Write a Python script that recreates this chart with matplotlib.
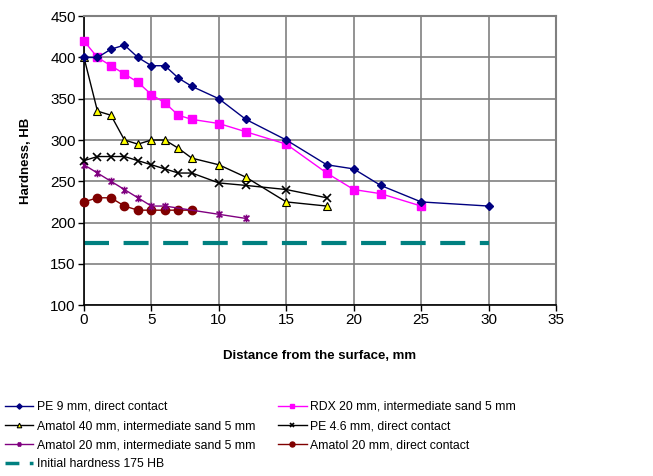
import matplotlib
matplotlib.use("Agg")
import matplotlib.pyplot as plt
from matplotlib.path import Path
from matplotlib.lines import Line2D

plt.rcParams['font.family'] = ['Liberation Sans', 'DejaVu Sans']

# hardness profiles, HB, against distance from the surface, mm
x_pe9 = [0, 1, 2, 3, 4, 5, 6, 7, 8, 10, 12, 15, 18, 20, 22, 25, 30]
hb_pe9 = [400, 400, 410, 415, 400, 390, 390, 375, 365, 350, 325, 300, 270, 265, 245, 225, 220]

x_rdx = [0, 1, 2, 3, 4, 5, 6, 7, 8, 10, 12, 15, 18, 20, 22, 25]
hb_rdx = [420, 400, 390, 380, 370, 355, 345, 330, 325, 320, 310, 295, 260, 240, 235, 220]

x_am40 = [0, 1, 2, 3, 4, 5, 6, 7, 8, 10, 12, 15, 18]
hb_am40 = [400, 335, 330, 300, 295, 300, 300, 290, 278, 270, 255, 225, 220]

x_pe46 = [0, 1, 2, 3, 4, 5, 6, 7, 8, 10, 12, 15, 18]
hb_pe46 = [275, 280, 280, 280, 275, 270, 265, 260, 260, 248, 245, 240, 230]

x_am20s = [0, 1, 2, 3, 4, 5, 6, 10, 12]
hb_am20s = [270, 260, 250, 240, 230, 220, 220, 210, 205]

x_am20d = [0, 1, 2, 3, 4, 5, 6, 7, 8]
hb_am20d = [225, 230, 230, 220, 215, 215, 215, 215, 215]

x_init = [0, 30]
hb_init = [175, 175]

xticks = [0, 5, 10, 15, 20, 25, 30, 35]
yticks = [100, 150, 200, 250, 300, 350, 400, 450]

# Excel-like star marker: an x with a vertical bar
star = Path([(-1, -1), (1, 1), (-1, 1), (1, -1), (0, -1.3), (0, 1.3)],
            [Path.MOVETO, Path.LINETO, Path.MOVETO, Path.LINETO, Path.MOVETO, Path.LINETO])

fig = plt.figure(figsize=(6.53, 4.76), dpi=100)
ax = fig.add_axes([0.1286, 0.359, 0.7229, 0.607])

ax.plot(x_init, hb_init, color='#008080', lw=3, dashes=(6, 3.5),
        label='Initial hardness 175 HB', zorder=2)
ax.plot(x_am20d, hb_am20d, color='#800000', lw=1, marker='o', ms=6,
        label='Amatol 20 mm, direct contact', zorder=3, clip_on=False)
ax.plot(x_am20s, hb_am20s, color='#800080', lw=1, marker=star, ms=5.5,
        mew=1.2, label='Amatol 20 mm, intermediate sand 5 mm', zorder=3, clip_on=False)
ax.plot(x_pe46, hb_pe46, color='black', lw=1, marker='x', ms=5.5, mew=1.2,
        label='PE 4.6 mm, direct contact', zorder=3, clip_on=False)
ax.plot(x_am40, hb_am40, color='black', lw=1, marker='^', ms=5.5,
        mfc='#FFFF00', mec='black', mew=0.8,
        label='Amatol 40 mm, intermediate sand 5 mm', zorder=3, clip_on=False)
ax.plot(x_rdx, hb_rdx, color='#FF00FF', lw=1, marker='s', ms=6,
        label='RDX 20 mm, intermediate sand 5 mm', zorder=3, clip_on=False)
ax.plot(x_pe9, hb_pe9, color='#000080', lw=1, marker='D', ms=4.5,
        label='PE 9 mm, direct contact', zorder=4, clip_on=False)

ax.set_xlim(0, 35)
ax.set_ylim(100, 450)
ax.set_xticks(xticks)
ax.set_yticks(yticks)
ax.tick_params(labelsize=11, direction='out', length=4, width=1, pad=2)
ax.grid(True, color='#808080', lw=1.2)
ax.set_axisbelow(True)
for s in ['top', 'right']:
    ax.spines[s].set_color('#808080')
    ax.spines[s].set_linewidth(1.5)
for s in ['left', 'bottom']:
    ax.spines[s].set_color('black')
    ax.spines[s].set_linewidth(1.2)

ax.set_xlabel('Distance from the surface, mm', fontsize=9.5, fontweight='bold', labelpad=16)
ax.set_ylabel('Hardness, HB', fontsize=9.5, fontweight='bold', labelpad=13)

# legend in two columns under the plot, filled column by column
h = {l.get_label(): l for l in ax.get_lines()}
order = ['PE 9 mm, direct contact',
         'Amatol 40 mm, intermediate sand 5 mm',
         'Amatol 20 mm, intermediate sand 5 mm',
         'Initial hardness 175 HB',
         'RDX 20 mm, intermediate sand 5 mm',
         'PE 4.6 mm, direct contact',
         'Amatol 20 mm, direct contact']
handles = []
for name in order:
    ln = h[name]
    if name == order[3]:
        handles.append(Line2D([], [], color=ln.get_color(), lw=2.5, dashes=(4, 3)))
    else:
        handles.append(Line2D([], [], color=ln.get_color(), lw=1,
                              marker=ln.get_marker(), ms=ln.get_markersize() * 0.6,
                              mfc=ln.get_markerfacecolor(), mec=ln.get_markeredgecolor(),
                              mew=ln.get_markeredgewidth()))
fig.legend(handles, order, ncol=2, loc='upper left', bbox_to_anchor=(0.0, 0.168),
           frameon=False, fontsize=8.8, handlelength=2.3, handletextpad=0.3,
           columnspacing=1.9, labelspacing=0.58, borderaxespad=0)

fig.savefig('out.png', dpi=100)
